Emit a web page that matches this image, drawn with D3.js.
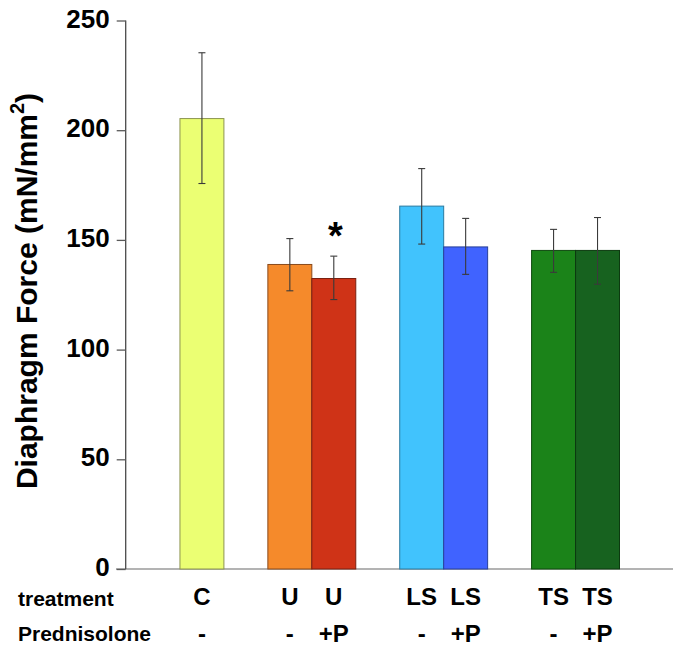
<!DOCTYPE html>
<html>
<head>
<meta charset="utf-8">
<script src="https://cdn.jsdelivr.net/npm/d3@7"></script>
<style>
  html, body { margin: 0; padding: 0; background: #fff; }
  svg { display: block; font-family: "Liberation Sans", Arial, sans-serif; }
</style>
</head>
<body>
<svg id="chart" width="681" height="650"></svg>
<script>
// ---- data ----
const barIds       = ["C", "U", "U+P", "LS", "LS+P", "TS", "TS+P"];
const groupOf      = [0, 1, 1, 2, 2, 3, 3];
const treatment    = ["C", "U", "U", "LS", "LS", "TS", "TS"];
const prednisolone = ["-", "-", "+P", "-", "+P", "-", "+P"];
const values       = [205.3, 138.8, 132.4, 165.4, 146.8, 145.2, 145.2];
const errHigh      = [235.3, 150.6, 142.6, 182.5, 159.8, 154.8, 160.2];
const errLow       = [175.7, 126.8, 122.8, 148.1, 134.3, 135.2, 129.8];
const significant  = [false, false, true, false, false, false, false];
const fills        = ["#ebff73", "#f58a2b", "#cf3317", "#41c3fd", "#4063ff", "#1b8319", "#17621f"];
const strokes      = ["#8c9450", "#8a4a1c", "#7a2010", "#2a7aa0", "#28409a", "#0f4a0f", "#0c3a10"];
const yTicks       = [0, 50, 100, 150, 200, 250];
const yLabel       = "Diaphragm Force (mN/mm";
const yLabelSup    = "2";
const rowLabels    = ["treatment", "Prednisolone"];

// ---- layout ----
const svg = d3.select("#chart");
const yAxisX = 125.7, baseY = 569, topY = 20.5;

// band slots: a gap slot before each new group
const slots = [];
groupOf.forEach((g, i) => {
  if (i === 0 || groupOf[i - 1] !== g) slots.push("gap" + g);
  slots.push(barIds[i]);
});
const x = d3.scaleBand().domain(slots).range([136, 619.5]).paddingInner(0).paddingOuter(0);
const y = d3.scaleLinear().domain([0, 250]).range([baseY, topY]);

// x baseline
svg.append("line")
  .attr("x1", 116).attr("x2", 673)
  .attr("y1", baseY).attr("y2", baseY)
  .attr("stroke", "#9a9a9a").attr("stroke-width", 1.3);

// bars
const bars = barIds.map((id, i) => ({ id, i }));
svg.append("g").selectAll("rect").data(bars).join("rect")
  .attr("x", d => x(d.id))
  .attr("y", d => y(values[d.i]))
  .attr("width", x.bandwidth())
  .attr("height", d => y(0) - y(values[d.i]))
  .attr("fill", d => fills[d.i])
  .attr("stroke", d => strokes[d.i])
  .attr("stroke-width", 1);

// error bars
const eg = svg.append("g").attr("stroke", "#3a3a3a").attr("stroke-width", 1.1);
bars.forEach(d => {
  const cx = x(d.id) + x.bandwidth() / 2;
  eg.append("line").attr("x1", cx).attr("x2", cx)
    .attr("y1", y(errHigh[d.i])).attr("y2", y(errLow[d.i]));
  [errHigh[d.i], errLow[d.i]].forEach(v => {
    eg.append("line").attr("x1", cx - 3.5).attr("x2", cx + 3.5)
      .attr("y1", y(v)).attr("y2", y(v));
  });
});

// significance star
svg.append("g").selectAll("text").data(bars.filter(d => significant[d.i])).join("text")
  .attr("x", d => x(d.id) + x.bandwidth() / 2 + 1.5)
  .attr("y", d => y(errHigh[d.i]) - 7)
  .attr("text-anchor", "middle")
  .attr("font-size", 38).attr("font-weight", "bold").attr("fill", "#000")
  .text("*");

// y axis
const yAxis = d3.axisLeft(y).tickValues(yTicks).tickSize(9).tickPadding(7).tickFormat(d3.format("d"));
const ga = svg.append("g").attr("transform", `translate(${yAxisX},0)`).call(yAxis);
ga.select(".domain").attr("stroke", "#4a4a4a").attr("stroke-width", 1.3)
  .attr("d", `M0,${topY}V${baseY}`);
ga.selectAll(".tick line").attr("stroke", "#5a5a5a").attr("stroke-width", 1.3);
ga.selectAll(".tick text")
  .attr("font-size", 26).attr("font-weight", "bold").attr("fill", "#000")
  .attr("font-family", '"Liberation Sans", Arial, sans-serif')
  .attr("dy", null).attr("y", 6.5);

// y label
const yl = svg.append("text")
  .attr("transform", "translate(37,291) rotate(-90)")
  .attr("text-anchor", "middle")
  .attr("font-size", 30).attr("font-weight", "bold").attr("fill", "#000");
yl.append("tspan").text(yLabel);
yl.append("tspan").attr("font-size", 20).attr("dy", -13).text(yLabelSup);
yl.append("tspan").attr("dy", 13).text(")");

// row labels
svg.append("g").selectAll("text").data(rowLabels).join("text")
  .attr("x", 18).attr("y", (d, i) => i === 0 ? 606 : 641)
  .attr("font-size", 21).attr("font-weight", "bold").attr("fill", "#000")
  .text(d => d);

// category labels
svg.append("g").selectAll("text").data(bars).join("text")
  .attr("x", d => x(d.id) + x.bandwidth() / 2)
  .attr("y", 605)
  .attr("text-anchor", "middle")
  .attr("font-size", 24).attr("font-weight", "bold").attr("fill", "#000")
  .text(d => treatment[d.i]);

svg.append("g").selectAll("text").data(bars).join("text")
  .attr("x", d => x(d.id) + x.bandwidth() / 2)
  .attr("y", 642)
  .attr("text-anchor", "middle")
  .attr("font-size", 24).attr("font-weight", "bold").attr("fill", "#000")
  .text(d => prednisolone[d.i]);
</script>
</body>
</html>
